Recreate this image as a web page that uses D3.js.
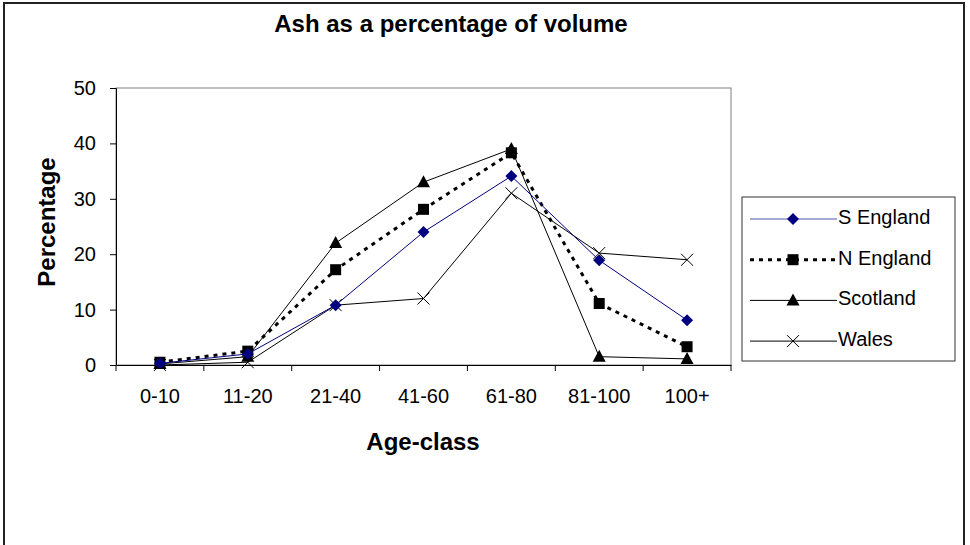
<!DOCTYPE html>
<html>
<head>
<meta charset="utf-8">
<script src="https://cdn.jsdelivr.net/npm/d3@7"></script>
<style>
  body { margin: 0; background: #fff; }
  svg { font-family: "Liberation Sans", Arial, sans-serif; }
</style>
</head>
<body>
<script>
// Data
const ageClasses = ["0-10", "11-20", "21-40", "41-60", "61-80", "81-100", "100+"];
const sEngland = [0.3, 2, 10.8, 24, 34.1, 18.9, 8.1];
const nEngland = [0.5, 2.5, 17.2, 28.1, 38.3, 11.1, 3.3];
const scotland = [0.2, 1.5, 22, 33, 39, 1.5, 1.1];
const wales = [0, 0.5, 10.8, 12, 31, 20.2, 19];
const yTicks = [0, 10, 20, 30, 40, 50];

const series = [
    {name: "S England", values: sEngland, color: "#000080", width: 1, dash: null, marker: "diamond"},
    {name: "N England", values: nEngland, color: "#000", width: 3, dash: "4,5", marker: "square"},
    {name: "Scotland", values: scotland, color: "#000", width: 1, dash: null, marker: "triangle"},
    {name: "Wales", values: wales, color: "#000", width: 1, dash: null, marker: "cross"}
];

const W = 970, H = 545;
const plot = {left: 116, top: 88, right: 731, bottom: 365};

const svg = d3.select("body").append("svg")
    .attr("width", W)
    .attr("height", H);

// outer chart border
svg.append("rect")
    .attr("x", 4).attr("y", 3)
    .attr("width", 960).attr("height", 560)
    .attr("fill", "#fff")
    .attr("stroke", "#222")
    .attr("stroke-width", 2);

const x = d3.scaleBand()
    .domain(ageClasses)
    .range([plot.left, plot.right]);

const y = d3.scaleLinear()
    .domain([0, 50])
    .range([plot.bottom, plot.top]);

const cx = d => x(d) + x.bandwidth() / 2;

// plot area frame
svg.append("rect")
    .attr("x", plot.left).attr("y", plot.top)
    .attr("width", plot.right - plot.left)
    .attr("height", plot.bottom - plot.top)
    .attr("fill", "none")
    .attr("stroke", "#808080")
    .attr("stroke-width", 1);

// y axis
const yAxis = svg.append("g")
    .attr("transform", "translate(" + plot.left + ",0)")
    .call(d3.axisLeft(y).tickValues(yTicks).tickSize(6).tickPadding(14));
yAxis.selectAll("text").style("font-size", "20px").attr("fill", "#000");
yAxis.select(".domain").attr("stroke", "#000");

// x axis with ticks at category boundaries
const xAxis = svg.append("g")
    .attr("transform", "translate(0," + plot.bottom + ")")
    .call(d3.axisBottom(x).tickSize(0).tickPadding(24));
xAxis.selectAll("text").style("font-size", "20px").attr("fill", "#000");
xAxis.select(".domain").attr("stroke", "#000");
xAxis.selectAll(".bound")
    .data(ageClasses.concat(["end"]))
    .enter().append("line")
    .attr("class", "bound")
    .attr("x1", (d, i) => i < ageClasses.length ? x(d) : plot.right)
    .attr("x2", (d, i) => i < ageClasses.length ? x(d) : plot.right)
    .attr("y1", 0).attr("y2", 6)
    .attr("stroke", "#000");

// titles
svg.append("text")
    .attr("x", 451).attr("y", 32)
    .attr("text-anchor", "middle")
    .style("font-size", "24px").style("font-weight", "bold")
    .text("Ash as a percentage of volume");

svg.append("text")
    .attr("x", 423).attr("y", 450)
    .attr("text-anchor", "middle")
    .style("font-size", "24px").style("font-weight", "bold")
    .text("Age-class");

svg.append("text")
    .attr("transform", "translate(55,222) rotate(-90)")
    .attr("text-anchor", "middle")
    .style("font-size", "24px").style("font-weight", "bold")
    .text("Percentage");

// marker drawing
function drawMarker(g, type, color) {
    if (type === "diamond") {
        g.append("path").attr("d", "M0,-6L6,0L0,6L-6,0Z").attr("fill", color);
    } else if (type === "square") {
        g.append("rect").attr("x", -5.5).attr("y", -5.5).attr("width", 11).attr("height", 11).attr("fill", "#000");
    } else if (type === "triangle") {
        g.append("path").attr("d", "M0,-7L6.5,5L-6.5,5Z").attr("fill", "#000");
    } else {
        g.append("path").attr("d", "M-6,-6L6,6M-6,6L6,-6").attr("stroke", "#000").attr("stroke-width", 1);
    }
}

const line = d3.line()
    .x((d, i) => cx(ageClasses[i]))
    .y(d => y(d));

// draw back to front so S England sits on top
series.slice().reverse().forEach(s => {
    svg.append("path")
        .attr("d", line(s.values))
        .attr("fill", "none")
        .attr("stroke", s.color)
        .attr("stroke-width", s.width)
        .attr("stroke-dasharray", s.dash);
    s.values.forEach((v, i) => {
        const g = svg.append("g").attr("transform", "translate(" + cx(ageClasses[i]) + "," + y(v) + ")");
        drawMarker(g, s.marker, s.color);
    });
});

// legend
svg.append("rect")
    .attr("x", 742).attr("y", 197)
    .attr("width", 213).attr("height", 164)
    .attr("fill", "#fff")
    .attr("stroke", "#333")
    .attr("stroke-width", 1);

const legend = svg.selectAll(".legend")
    .data(series)
    .enter().append("g")
    .attr("class", "legend")
    .attr("transform", (d, i) => "translate(0," + (219 + i * 40.7) + ")");

legend.append("line")
    .attr("x1", 750).attr("x2", 837)
    .attr("stroke", d => d.name === "S England" ? "#5555b0" : d.color)
    .attr("stroke-width", d => d.width)
    .attr("stroke-dasharray", d => d.dash);

legend.each(function(d) {
    const g = d3.select(this).append("g").attr("transform", "translate(793,0)");
    drawMarker(g, d.marker, d.color);
});

legend.append("text")
    .attr("x", 838).attr("y", 5)
    .style("font-size", "20px")
    .text(d => d.name);
</script>
</body>
</html>
